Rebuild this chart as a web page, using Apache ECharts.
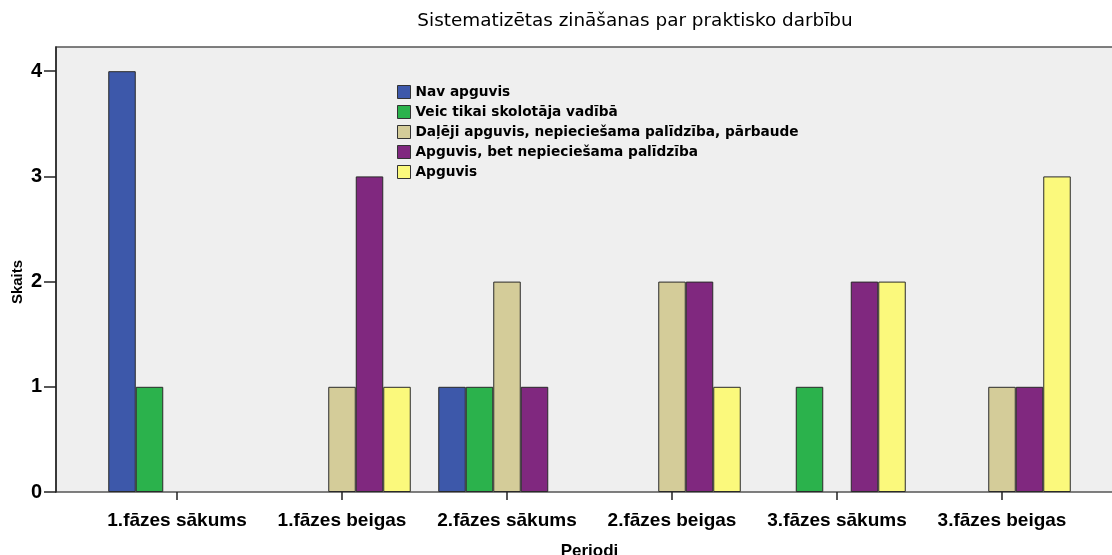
<!DOCTYPE html>
<html><head><meta charset="utf-8">
<script src="https://cdn.jsdelivr.net/npm/echarts@6/dist/echarts.min.js"></script>
<style>html,body{margin:0;padding:0;background:#fff}#c{width:1112px;height:555px}</style>
</head><body><div id="c"></div>
<script>
const categories = ['1.fāzes sākums','1.fāzes beigas','2.fāzes sākums','2.fāzes beigas','3.fāzes sākums','3.fāzes beigas'];
const seriesNames = ['Nav apguvis','Veic tikai skolotāja vadībā','Daļēji apguvis, nepieciešama palīdzība, pārbaude','Apguvis, bet nepieciešama palīdzība','Apguvis'];
const navApguvis = [4,0,1,0,0,0];
const veicTikai = [1,0,1,0,1,0];
const dalejiApguvis = [0,1,2,2,0,1];
const apguvisBet = [0,3,1,2,2,1];
const apguvis = [0,1,0,1,2,3];
const yTicks = [0,1,2,3,4];
const colors = ['#3d58aa','#2bb24c','#d4cc99','#80287f','#fbf97c'];
const allData = [navApguvis, veicTikai, dalejiApguvis, apguvisBet, apguvis];

const F = '"Liberation Sans", Arial, sans-serif';
const D = '"DejaVu Sans", sans-serif';
const chart = echarts.init(document.getElementById('c'), null, {renderer:'canvas'});
const TOP = 47, BOTTOM = 63, YMAX = 4.23;
chart.setOption({
  animation:false,
  backgroundColor:'#ffffff',
  title:{text:'Sistematizētas zināšanas par praktisko darbību', left:635, top:12, textAlign:'center', padding:0,
    textStyle:{fontFamily:D, fontSize:18.4, fontWeight:'normal', color:'#000'}},
  legend:{orient:'vertical', left:397, top:85, padding:0, itemWidth:13, itemHeight:13, itemGap:6,
    icon:'rect', data:seriesNames,
    textStyle:{fontFamily:D, fontSize:13.7, fontWeight:'bold', color:'#000', lineHeight:14},
    itemStyle:{borderColor:'#333', borderWidth:1}},
  grid:[
    {left:56, right:-12, top:TOP, bottom:BOTTOM, show:true, backgroundColor:'#efefef', borderColor:'#555', borderWidth:1.5, outerBoundsMode:'none', containLabel:false},
    {left:94.5, right:27.5, top:TOP, bottom:BOTTOM, outerBoundsMode:'none', containLabel:false}
  ],
  graphic:[
    {type:'text', x:18, y:282, rotation:Math.PI/2, style:{text:'Skaits', fontFamily:F, fontSize:15, fontWeight:'bold', fill:'#000', align:'center', verticalAlign:'middle'}}
  ],
  xAxis:[
    {type:'value', gridIndex:0, show:false, min:0, max:1},
    {type:'category', gridIndex:1, data:categories,
      axisLine:{show:false},
      axisTick:{show:true, interval:0, alignWithLabel:true, length:8, lineStyle:{color:'#222', width:1.5}},
      axisLabel:{interval:0, hideOverlap:false, fontFamily:F, fontSize:19, fontWeight:'bold', color:'#000', margin:19},
      name:'Periodi', nameLocation:'middle', nameGap:51,
      nameTextStyle:{fontFamily:F, fontSize:17, fontWeight:'bold', color:'#000'}}
  ],
  yAxis:[
    {type:'value', gridIndex:0, min:0, max:YMAX,
      axisLine:{show:true, lineStyle:{color:'#222', width:1.5}},
      axisTick:{show:true, length:12, customValues:yTicks, lineStyle:{color:'#222', width:1.5}},
      axisLabel:{customValues:yTicks, fontFamily:F, fontSize:20, fontWeight:'bold', color:'#000', margin:14},
      splitLine:{show:false}},
    {type:'value', gridIndex:1, min:0, max:YMAX, show:false, splitLine:{show:false}}
  ],
  series: seriesNames.map((n,i)=>({
    name:n, type:'bar', xAxisIndex:1, yAxisIndex:1,
    data: allData[i].map(v=> v===0 ? null : v),
    barWidth:27.5, barGap:'0%',
    itemStyle:{color:colors[i], borderColor:'#2a2a2a', borderWidth:1}
  }))
});
</script></body></html>
